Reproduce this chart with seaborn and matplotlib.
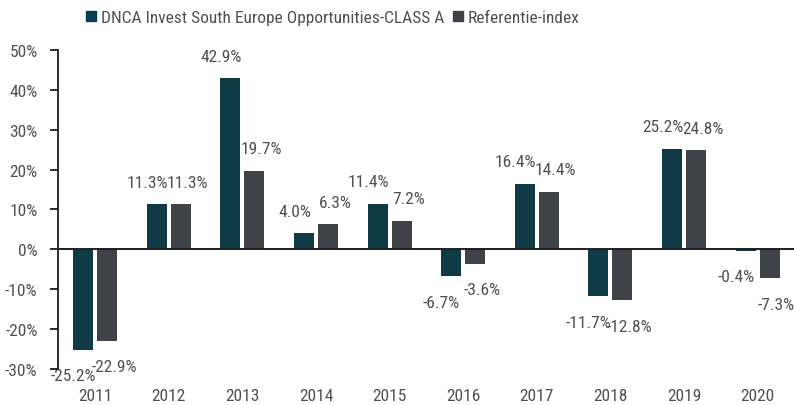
import matplotlib
matplotlib.use("Agg")
import matplotlib.pyplot as plt
from matplotlib import font_manager
from matplotlib.lines import Line2D
import seaborn as sns
import pandas as pd

years = ["2011", "2012", "2013", "2014", "2015", "2016", "2017", "2018", "2019", "2020"]
fund_name = "DNCA Invest South Europe Opportunities-CLASS A"
index_name = "Referentie-index"
fund_returns = [-25.2, 11.3, 42.9, 4.0, 11.4, -6.7, 16.4, -11.7, 25.2, -0.4]
index_returns = [-22.9, 11.3, 19.7, 6.3, 7.2, -3.6, 14.4, -12.8, 24.8, -7.3]
y_ticks = [-30, -20, -10, 0, 10, 20, 30, 40, 50]

fund_color = "#083e50"
index_color = "#3e4148"
text_color = "#505050"

# prefer a narrow face; fall back to the narrowest regular sans available
installed = {f.name for f in font_manager.fontManager.ttflist}
family, fsize, vsize = "Roboto", 10.5, 9.2
for name, size in [("Roboto Condensed", 12.5), ("Liberation Sans Narrow", 12.5),
                   ("Open Sans Condensed", 12.5), ("DejaVu Sans Condensed", 11)]:
    if name in installed:
        family, fsize, vsize = name, size, size
        break

sns.set_theme(style="white")
plt.rcParams["font.family"] = [family, "DejaVu Sans"]

df = pd.DataFrame({
    "year": years * 2,
    "series": [fund_name] * len(years) + [index_name] * len(years),
    "value": fund_returns + index_returns,
})

fig = plt.figure(figsize=(7.94, 4.06), dpi=100)
ax = fig.add_axes([0.0735, 0.0887, 0.927, 0.7857])

sns.barplot(data=df, x="year", y="value", hue="series",
            hue_order=[fund_name, index_name],
            palette=[fund_color, index_color],
            width=0.652, gap=0.166, dodge=True, ax=ax, legend=False,
            linewidth=0, zorder=1)

ax.set_xlim(-0.5, len(years) - 0.5)
ax.set_ylim(-30, 50)
ax.set_yticks(y_ticks)
ax.set_yticklabels([f"{t}%" for t in y_ticks])
ax.set_xlabel("")
ax.set_ylabel("")

for side in ["top", "right", "bottom"]:
    ax.spines[side].set_visible(False)
ax.spines["left"].set_color("#1e1e1e")
ax.spines["left"].set_linewidth(1.3)
ax.tick_params(axis="y", left=True, length=6, width=1.3, color="#1e1e1e",
               pad=9, labelsize=fsize, labelcolor=text_color)
ax.tick_params(axis="x", bottom=False, pad=8, labelsize=fsize, labelcolor=text_color)

ax.axhline(0, color="#1e1e1e", lw=1.4, zorder=3)

# value labels: fund labels nudged left, index labels nudged right
for container, dx in zip(ax.containers, [-9.5, 7]):
    for bar in container:
        h = bar.get_height()
        xc = bar.get_x() + bar.get_width() / 2
        dy = 22 if h >= 0 else -26
        ax.annotate(f"{h:.1f}%", xy=(xc, h), xytext=(dx, dy),
                    textcoords="offset pixels", ha="center", va="center",
                    fontsize=vsize, color=text_color, zorder=0.5,
                    annotation_clip=False)

# legend entries laid out across the top
for name, color, xpos in [(fund_name, fund_color, 86 / 794),
                          (index_name, index_color, 453 / 794)]:
    handle = Line2D([], [], marker="s", linestyle="none", markersize=7,
                    markerfacecolor=color, markeredgecolor=color)
    fig.legend([handle], [name], loc="center left",
               bbox_to_anchor=(xpos, 1 - 18 / 406), frameon=False,
               fontsize=fsize, labelcolor=text_color, handlelength=0.6,
               handletextpad=0.25, borderpad=0, borderaxespad=0)

fig.savefig("out.png", dpi=100)
